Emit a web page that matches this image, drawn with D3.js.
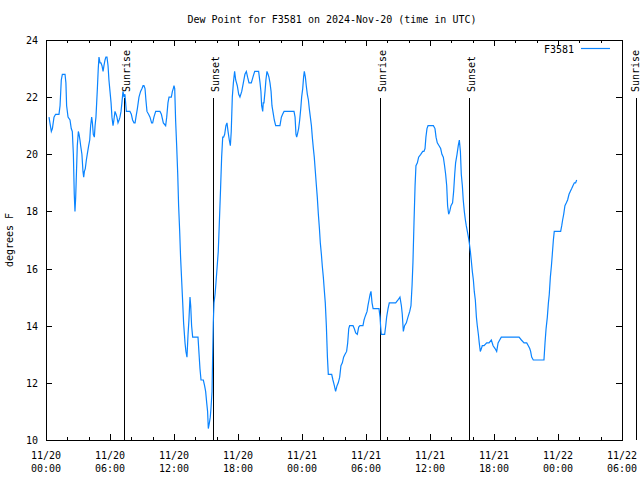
<!DOCTYPE html>
<html>
<head>
<meta charset="utf-8">
<script src="https://cdn.jsdelivr.net/npm/d3@7"></script>
<style>
  html, body { margin: 0; padding: 0; background: #fff; }
  svg { display: block; font-family: "DejaVu Sans Mono", monospace; font-size: 10px; }
</style>
</head>
<body>
<svg id="chart" width="640" height="480"></svg>
<script>
// ---- data ----
const chartTitle = "Dew Point for F3581 on 2024-Nov-20 (time in UTC)";
const seriesName = "F3581";
const yLabel = "degrees F";
const startUTC = Date.UTC(2024, 10, 20, 0, 0);
const endUTC = Date.UTC(2024, 10, 22, 6, 0);
// minutes since 2024-11-20 00:00 UTC
const minutes = [
  17,22,30,36,45,54,64,73,79,86,92,107,112,116,124,135,142,148,154,159,163,167,171,176,182,186,191,195,202,208,212,216,221,227,232,240,246,251,257,261,266,272,276,281,285,289,294,298,304,309,315,321,326,332,337,343,349,354,360,366,371,377,382,388,394,399,405,411,416,422,427,433,439,444,452,461,472,480,487,495,501,506,514,523,532,540,546,551,557,562,568,577,585,594,600,607,
  617,641,649,660,673,679,686,692,705,711,716,720,724,729,735,741,746,752,757,763,769,774,782,787,793,799,804,810,814,819,825,855,861,866,872,885,892,898,904,909,913,919,924,928,934,937,941,945,951,956,962,969,975,982,988,994,999,1005,1012,1018,1024,1031,1037,1042,1048,1054,1061,1067,1076,1084,1091,1101,1110,1119,1127,1134,1142,1155,1164,1174,1196,1204,1209,1213,1219,1222,1226,
  1232,1237,1243,1249,1254,1260,1266,1271,1279,1284,1292,1316,1324,1331,1339,1395,1401,1406,1410,1414,1421,1427,1433,1438,1444,1449,1453,1459,1464,1470,1476,1481,1487,1493,1498,1504,1509,1515,1521,1526,1532,1538,1543,1549,1554,1560,1566,1571,1577,1583,1588,1607,1614,1622,1629,1637,1644,1652,1659,1667,1674,1682,1691,1697,1703,1708,1719,1727,1734,1742,1751,1759,1766,1783,1789,1794,1800,1806,1811,1817,1823,1828,1834,1840,
  1845,1873,1879,1882,1886,1905,1911,1916,1924,1931,1967,1980,1991,1999,2004,2010,2017,2027,2036,2046,2053,2059,2064,2070,2076,2081,2089,2096,2108,2119,2126,2132,2137,2143,2149,2171,2179,2188,2194,2201,2211,2220,2227,2235,2242,2248,2254,2259,2265,2271,2278,2287,2293,2299,2304,2312,2319,2325,2331,2336,2342,2347,2353,2359,2364,2370,2376,2381,2387,2392,2398,2404,2409,2415,2421,2426,2432,2437,2443,2449,2454,2464,
  2479,2492,2505,2515,2526,2535,2543,2552,2561,2648,2661,2674,2689,2704,2713,2721,2726,2732,2741,2801,2807,2813,2820,2826,2831,2837,2843,2848,2854,2859,2895,2901,2906,2912,2919,2927,2934,2942,2949,2957,2964,2972,2979,2985
];
const dewPoint = [
  21.3,21.1,20.8,20.9,21.3,21.4,21.4,21.4,21.7,22.6,22.8,22.8,22.5,21.7,21.3,21.2,20.9,20.8,20.0,18.6,18.0,18.5,19.3,20.3,20.8,20.7,20.5,20.3,20.0,19.4,19.2,19.4,19.5,19.8,20.0,20.3,20.5,21.0,21.3,21.1,20.7,20.6,21.0,21.3,21.8,22.3,23.0,23.4,23.2,23.2,23.1,22.9,23.1,23.3,23.4,23.4,23.1,22.6,22.2,21.8,21.3,21.0,21.2,21.5,21.4,21.3,21.1,21.2,21.3,21.5,21.8,22.2,22.0,22.1,21.5,21.5,21.5,21.4,21.2,21.1,21.1,21.3,21.6,22.0,22.2,22.3,22.4,22.4,22.3,21.9,21.5,21.4,21.3,21.1,21.1,21.3,
  21.5,21.5,21.4,21.1,21.0,21.3,21.8,22.0,22.0,22.2,22.3,22.4,22.3,21.2,20.3,19.3,18.2,17.3,16.4,15.6,14.8,14.1,13.4,13.1,12.9,13.7,14.2,15.0,14.7,14.0,13.6,13.6,13.0,12.5,12.1,12.1,11.9,11.7,11.3,11.0,10.4,10.6,10.8,11.1,11.7,12.8,14.1,14.8,15.1,15.5,16.0,16.6,17.6,18.8,19.9,20.6,20.6,20.7,21.0,21.1,20.8,20.5,20.3,20.8,22.0,22.5,22.9,22.6,22.4,22.1,22.0,22.2,22.5,22.8,22.9,22.7,22.5,22.5,22.7,22.9,22.9,22.5,22.2,21.7,21.5,21.8,21.8,
  22.2,22.6,22.9,22.8,22.7,22.5,22.2,21.7,21.4,21.2,21.0,21.0,21.3,21.4,21.5,21.5,21.3,20.7,20.6,20.7,20.9,21.2,21.6,22.0,22.3,22.7,22.9,22.7,22.4,22.1,21.9,21.6,21.3,21.0,20.6,20.2,19.9,19.4,18.9,18.5,17.9,17.4,16.9,16.5,16.1,15.7,15.2,14.8,14.0,12.9,12.3,12.3,12.1,11.9,11.7,11.9,12.0,12.2,12.6,12.7,12.9,13.0,13.1,13.4,13.9,14.0,14.0,14.0,13.9,13.75,13.7,13.95,14.0,14.0,14.2,14.3,14.4,14.5,14.7,14.9,15.1,15.2,14.8,14.6,
  14.6,14.6,14.3,14.0,13.7,13.7,14.0,14.3,14.6,14.8,14.8,14.9,15.0,14.7,14.4,13.8,14.0,14.1,14.3,14.5,14.7,15.4,16.2,17.6,18.9,19.6,19.7,19.9,20.0,20.1,20.1,20.2,20.6,20.9,21.0,21.0,21.0,20.9,20.6,20.4,20.3,20.2,20.0,19.9,19.6,19.3,18.9,18.2,17.9,18.0,18.2,18.3,18.7,19.3,19.7,20.0,20.3,20.5,20.1,19.3,18.9,18.4,18.0,17.7,17.5,17.3,17.1,16.9,16.6,16.3,15.9,15.6,15.2,14.9,14.3,14.0,13.7,13.4,13.1,13.2,13.3,13.3,
  13.4,13.4,13.5,13.3,13.2,13.1,13.4,13.5,13.6,13.6,13.6,13.5,13.4,13.4,13.3,13.2,13.1,12.9,12.8,12.8,13.4,13.9,14.3,14.8,15.1,15.7,16.1,16.5,17.0,17.3,17.3,17.5,17.7,17.9,18.2,18.3,18.4,18.6,18.7,18.8,18.9,19.0,19.0,19.1
];
// sunrise / sunset markers (minutes since start)
const sunLabels = ["Sunrise", "Sunset", "Sunrise", "Sunset", "Sunrise"];
const sunMinutes = [440, 941, 1877, 2378, 3318];
const yTicks = [10, 12, 14, 16, 18, 20, 22, 24];

// ---- layout ----
const svg = d3.select("#chart");
const mLeft = 46, mRight = 622, mTop = 40, mBottom = 440;
const toDate = m => new Date(startUTC + m * 60000);

const x = d3.scaleUtc().domain([new Date(startUTC), new Date(endUTC)]).range([mLeft, mRight]);
const y = d3.scaleLinear().domain([10, 24]).range([mBottom, mTop]);

const lineColor = "#0a84ff";

// title
svg.append("text").attr("x", 332).attr("y", 23).attr("text-anchor", "middle")
  .attr("fill", "#000").text(chartTitle);

// y axis label
svg.append("text").attr("transform", "translate(13,240) rotate(-90)")
  .attr("text-anchor", "middle").attr("fill", "#000").text(yLabel);

// axes (ticks inward, mirrored)
const majorTimes = d3.utcHour.every(6).range(new Date(startUTC), new Date(endUTC + 1));
const minorTimes = d3.utcHour.every(2).range(new Date(startUTC), new Date(endUTC + 1));

const g = svg.append("g").attr("shape-rendering", "crispEdges").attr("stroke", "#000").attr("stroke-width", 1);
minorTimes.forEach(t => {
  const xx = Math.round(x(t)) + 0.5;
  const len = (t.getUTCHours() % 6 === 0) ? 6 : 3;
  g.append("line").attr("x1", xx).attr("x2", xx).attr("y1", mBottom).attr("y2", mBottom - len);
  g.append("line").attr("x1", xx).attr("x2", xx).attr("y1", mTop).attr("y2", mTop + len);
});
yTicks.forEach(v => {
  const yy = Math.round(y(v)) + 0.5;
  g.append("line").attr("x1", mLeft).attr("x2", mLeft + 6).attr("y1", yy).attr("y2", yy);
  g.append("line").attr("x1", mRight).attr("x2", mRight - 6).attr("y1", yy).attr("y2", yy);
});

// tick labels
const fmtDay = d3.utcFormat("%m/%d"), fmtHour = d3.utcFormat("%H:%M");
majorTimes.forEach(t => {
  const xx = x(t);
  svg.append("text").attr("x", xx).attr("y", 459).attr("text-anchor", "middle").text(fmtDay(t));
  svg.append("text").attr("x", xx).attr("y", 472).attr("text-anchor", "middle").text(fmtHour(t));
});
yTicks.forEach(v => {
  svg.append("text").attr("x", 38).attr("y", y(v) + 4).attr("text-anchor", "end").text(v);
});

// sunrise / sunset lines
sunMinutes.forEach((m, i) => {
  const xx = Math.round(x(toDate(m))) + 0.5;
  svg.append("line").attr("x1", xx).attr("x2", xx).attr("y1", y(22) + 1).attr("y2", mBottom)
    .attr("stroke", "#000").attr("stroke-width", 1).attr("shape-rendering", "crispEdges");
  const tx = Math.min(xx + 5, 639);
  svg.append("text").attr("transform", `translate(${tx},92) rotate(-90)`)
    .attr("text-anchor", "start").text(sunLabels[i]);
});

// data line
const pts = minutes.map((m, i) => [toDate(m), dewPoint[i]]);
const line = d3.line().x(d => x(d[0])).y(d => y(d[1]));
svg.append("path").datum(pts).attr("d", line)
  .attr("fill", "none").attr("stroke", lineColor).attr("stroke-width", 1.2);

// frame
svg.append("rect").attr("x", mLeft + 0.5).attr("y", mTop + 0.5)
  .attr("width", mRight - mLeft).attr("height", mBottom - mTop)
  .attr("fill", "none").attr("stroke", "#000").attr("stroke-width", 1)
  .attr("shape-rendering", "crispEdges");

// legend
svg.append("text").attr("x", 574).attr("y", 53).attr("text-anchor", "end").text(seriesName);
svg.append("line").attr("x1", 581).attr("x2", 610).attr("y1", 48.5).attr("y2", 48.5)
  .attr("stroke", lineColor).attr("stroke-width", 1.2);
</script>
</body>
</html>
